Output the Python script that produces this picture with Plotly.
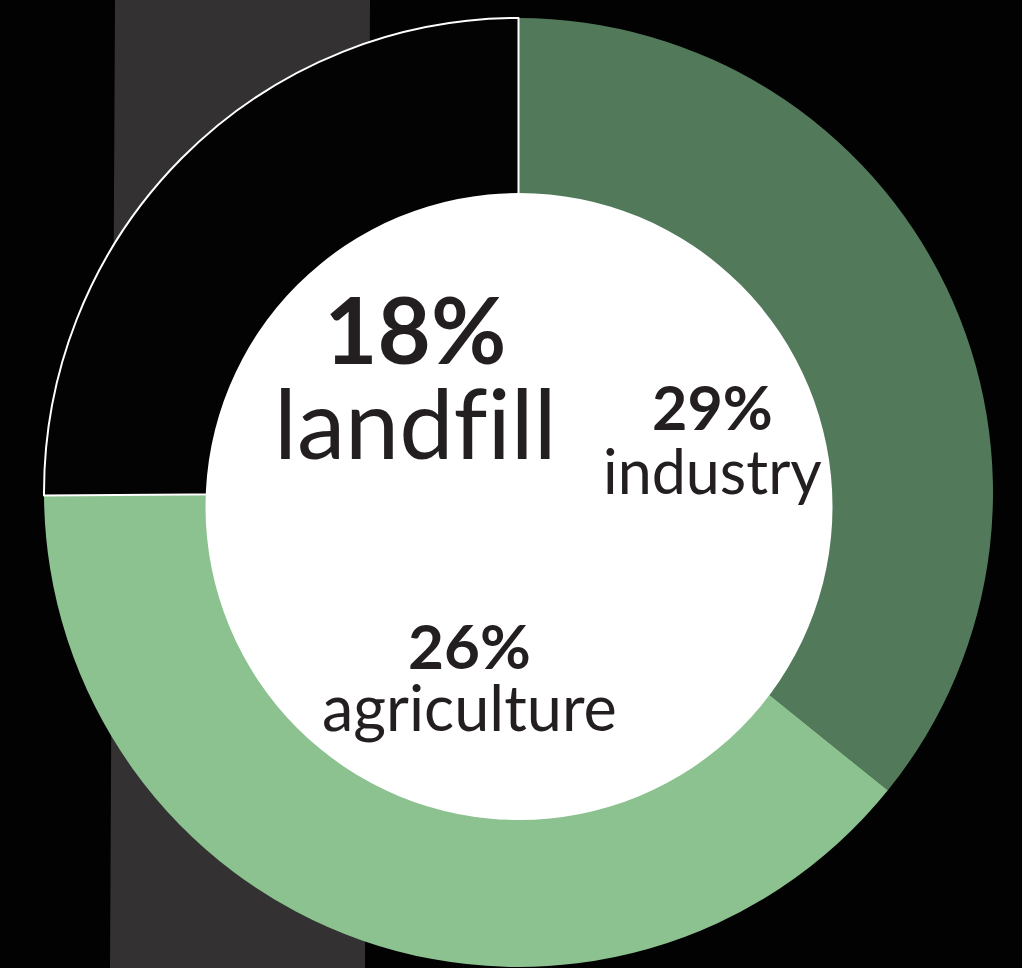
import plotly.graph_objects as go

# Slice data (angular shares, clockwise from 12 o'clock)
slice_names = ["industry", "agriculture", "landfill"]
slice_values = [35.8, 39.1, 25.1]
slice_colors = ["#527A5A", "#8CC190", "#030303"]

# Label texts as printed on the chart
label_pcts = ["29%", "26%", "18%"]
label_words = ["industry", "agriculture", "landf\u200cill"]

W, H = 1022, 968
cx, cy, R = 518.5, 492.5, 474.5          # ring centre / outer radius (px)
hx, hy, hr = 519.0, 506.5, 313.5         # white centre disc (slightly lower)
r_pie_hole = 292.0


def px(x):
    return x / W


def py(y):
    return 1 - y / H


fig = go.Figure()
fig.add_trace(go.Pie(
    labels=slice_names,
    values=slice_values,
    sort=False,
    direction="clockwise",
    rotation=0,
    hole=r_pie_hole / R,
    marker=dict(colors=slice_colors,
                line=dict(color=["rgba(0,0,0,0)", "rgba(0,0,0,0)", "#FFFFFF"],
                          width=[0, 0, 2])),
    textinfo="none",
    hoverinfo="label+value",
    showlegend=False,
    domain=dict(x=[px(cx - R), px(cx + R)], y=[py(cy + R), py(cy - R)]),
))

shapes = [
    dict(type="path", xref="paper", yref="paper", layer="below",
         path=f"M {px(115)} {py(0)} L {px(370)} {py(0)} L {px(365)} {py(H)} L {px(110)} {py(H)} Z",
         fillcolor="#333132", line=dict(width=0)),
    dict(type="circle", xref="paper", yref="paper", layer="above",
         x0=px(hx - hr), x1=px(hx + hr),
         y0=py(hy + hr), y1=py(hy - hr),
         fillcolor="#FFFFFF", line=dict(width=0)),
]

txt_color = "#231F20"
fam = "Lato"
# block centre (x, y) in px, line-spacing base size, pct size, word size
pos = [
    (712, 438, 49, 61, 61),    # industry
    (469, 676, 48, 62, 63),    # agriculture
    (415, 376, 73, 92, 97),    # landfill
]
annotations = []
for pct, word, (x, y, base, s1, s2) in zip(label_pcts, label_words, pos):
    text = (f"<span style='font-size:{s1}px;font-weight:700'>{pct}</span><br>"
            f"<span style='font-size:{s2}px;font-weight:400'>{word}</span>")
    annotations.append(dict(text=text, x=px(x), y=py(y), xref="paper", yref="paper",
                            showarrow=False, xanchor="center", yanchor="middle",
                            align="center",
                            font=dict(family=fam, size=base, color=txt_color)))

fig.update_layout(
    width=W, height=H,
    margin=dict(l=0, r=0, t=0, b=0),
    paper_bgcolor="#020202",
    plot_bgcolor="#020202",
    shapes=shapes,
    annotations=annotations,
)

fig.write_html("out.html", config={"displayModeBar": False},
               post_script="document.body.style.margin='0px';document.body.style.overflow='hidden';")
